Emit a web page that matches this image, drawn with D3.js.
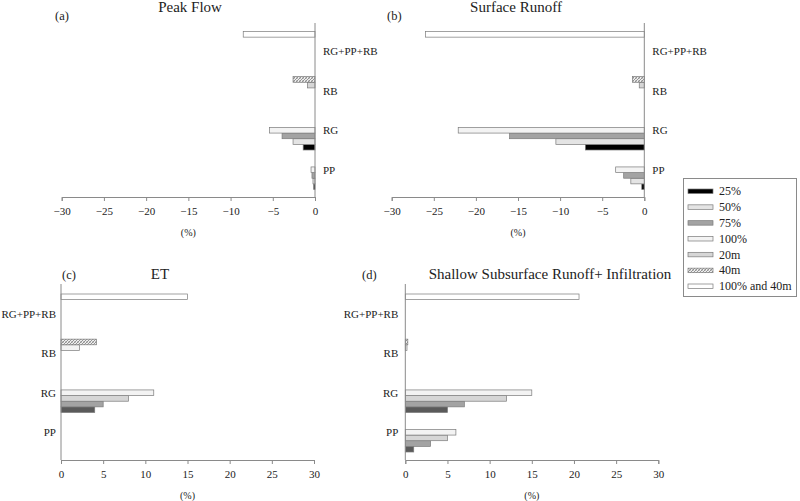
<!DOCTYPE html>
<html>
<head>
<meta charset="utf-8">
<script src="https://cdn.jsdelivr.net/npm/d3@7"></script>
<style>
  html, body { margin: 0; padding: 0; background: #fff; }
  svg { display: block; }
  text { font-family: "Liberation Serif", "Times New Roman", serif; fill: #222; }
</style>
</head>
<body>
<svg id="chart" width="800" height="501"></svg>
<script>
// ---------------- DATA ----------------
const categories = ["RG+PP+RB", "RB", "RG", "PP"];
const seriesNames = ["25%", "50%", "75%", "100%", "20m", "40m", "100% and 40m"];

// values per series, in category order [RG+PP+RB, RB, RG, PP]
const peakFlow = {
  "25%":          [0, 0, -1.4, -0.15],
  "50%":          [0, 0, -2.6, -0.24],
  "75%":          [0, 0, -3.9, -0.36],
  "100%":         [0, 0, -5.4, -0.47],
  "20m":          [0, -0.9, 0, 0],
  "40m":          [0, -2.6, 0, 0],
  "100% and 40m": [-8.5, 0, 0, 0]
};
const surfaceRunoff = {
  "25%":          [0, 0, -7.0, -0.3],
  "50%":          [0, 0, -10.5, -1.6],
  "75%":          [0, 0, -16.0, -2.45],
  "100%":         [0, 0, -22.1, -3.4],
  "20m":          [0, -0.6, 0, 0],
  "40m":          [0, -1.4, 0, 0],
  "100% and 40m": [-26.0, 0, 0, 0]
};
const et = {
  "25%":          [0, 0, 4.0, 0],
  "50%":          [0, 0, 5.0, 0],
  "75%":          [0, 0, 8.0, 0],
  "100%":         [0, 0, 11.0, 0],
  "20m":          [0, 2.2, 0, 0],
  "40m":          [0, 4.2, 0, 0],
  "100% and 40m": [15.0, 0, 0, 0]
};
const shallowInfil = {
  "25%":          [0, 0, 5.0, 1.0],
  "50%":          [0, 0, 7.0, 3.0],
  "75%":          [0, 0, 12.0, 5.0],
  "100%":         [0, 0, 15.0, 6.0],
  "20m":          [0, 0.2, 0, 0],
  "40m":          [0, 0.3, 0, 0],
  "100% and 40m": [20.6, 0, 0, 0]
};
const negTicks = [-30, -25, -20, -15, -10, -5, 0];
const posTicks = [0, 5, 10, 15, 20, 25, 30];

// ---------------- STYLE ----------------
const topColors = {
  "25%": "#000000", "50%": "#e4e4e4", "75%": "#a3a3a3", "100%": "#f3f3f3",
  "20m": "#d6d6d6", "40m": "url(#hatch)", "100% and 40m": "#ffffff"
};
const bottomColors = {
  "25%": "#5a5a5a", "50%": "#a3a3a3", "75%": "#d6d6d6", "100%": "#f3f3f3",
  "20m": "#f3f3f3", "40m": "url(#hatch)", "100% and 40m": "#ffffff"
};
const legendColors = {
  "25%": "#000000", "50%": "#e4e4e4", "75%": "#a3a3a3", "100%": "#f3f3f3",
  "20m": "#d6d6d6", "40m": "url(#hatch)", "100% and 40m": "#ffffff"
};

const svg = d3.select("#chart");
const defs = svg.append("defs");
const pat = defs.append("pattern").attr("id", "hatch")
  .attr("patternUnits", "userSpaceOnUse").attr("width", 3).attr("height", 3);
pat.append("rect").attr("width", 3).attr("height", 3).attr("fill", "#eee");
pat.append("path").attr("d", "M0,3 L3,0 M-1,1 L1,-1 M2,4 L4,2")
  .attr("stroke", "#777").attr("stroke-width", 0.8);
pat.append("path").attr("d", "M0,0 L3,3")
  .attr("stroke", "#999").attr("stroke-width", 0.5);

const panels = [
  { data: peakFlow, title: "Peak Flow", tag: "(a)", domain: [-30, 0], ticks: negTicks,
    xr: [61.7, 315], top: 23, axisY: 197, band: [31.5, 189.5], colors: topColors,
    titleX: 190, titleY: 12, tagX: 55, tagY: 20, labelSide: "right", labelOff: 8 },
  { data: surfaceRunoff, title: "Surface Runoff", tag: "(b)", domain: [-30, 0], ticks: negTicks,
    xr: [391.7, 644.3], top: 23, axisY: 197, band: [31.5, 189.5], colors: topColors,
    titleX: 516, titleY: 12, tagX: 387, tagY: 20, labelSide: "right", labelOff: 8 },
  { data: et, title: "ET", tag: "(c)", domain: [0, 30], ticks: posTicks,
    xr: [61, 314], top: 284, axisY: 460, band: [294, 452], colors: bottomColors,
    titleX: 160, titleY: 279, tagX: 62, tagY: 279, labelSide: "left", labelOff: 5 },
  { data: shallowInfil, title: "Shallow Subsurface Runoff+ Infiltration", tag: "(d)", domain: [0, 30], ticks: posTicks,
    xr: [405.3, 658.3], top: 284, axisY: 460, band: [294, 452], colors: bottomColors,
    titleX: 550, titleY: 279, tagX: 362, tagY: 279, labelSide: "left", labelOff: 7 }
];

panels.forEach(p => {
  const g = svg.append("g");
  const x = d3.scaleLinear().domain(p.domain).range(p.xr);
  const y = d3.scaleBand().domain(categories).range(p.band).paddingInner(0).paddingOuter(0);
  const yInner = d3.scaleBand().domain(seriesNames.slice().reverse())
    .range([0, y.bandwidth()]).padding(0);

  // bars
  seriesNames.forEach(s => {
    const vals = p.data[s];
    g.selectAll(null).data(categories.map((c, i) => ({ c, v: vals[i] })).filter(d => d.v !== 0))
      .enter().append("rect")
      .attr("x", d => Math.min(x(0), x(d.v)))
      .attr("width", d => Math.abs(x(d.v) - x(0)))
      .attr("y", d => y(d.c) + yInner(s))
      .attr("height", yInner.bandwidth())
      .attr("fill", p.colors[s])
      .attr("stroke", "#7a7a7a")
      .attr("stroke-width", 0.7);
  });

  // x axis
  const xAxis = d3.axisBottom(x).tickValues(p.ticks).tickSize(4).tickPadding(6)
    .tickFormat(d3.format("d"));
  const ax = g.append("g").attr("transform", `translate(0,${p.axisY})`).call(xAxis);
  ax.select(".domain").attr("stroke", "#8a8a8a");
  ax.selectAll(".tick line").attr("stroke", "#8a8a8a");
  ax.selectAll(".tick text").attr("font-family", "Liberation Serif, serif")
    .attr("font-size", 11).attr("fill", "#222");

  // category (vertical) axis line at zero
  g.append("line").attr("x1", x(0)).attr("x2", x(0))
    .attr("y1", p.top).attr("y2", p.axisY)
    .attr("stroke", "#8a8a8a").attr("stroke-width", 1);

  // category labels
  g.selectAll(null).data(categories).enter().append("text")
    .attr("x", p.labelSide === "right" ? x(0) + p.labelOff : x(0) - p.labelOff)
    .attr("y", d => y(d) + y.bandwidth() / 2)
    .attr("dy", "0.35em")
    .attr("text-anchor", p.labelSide === "right" ? "start" : "end")
    .attr("font-size", 11)
    .text(d => d);

  // units label
  g.append("text").attr("x", (p.xr[0] + p.xr[1]) / 2).attr("y", p.axisY + 35)
    .attr("dy", "0.35em").attr("text-anchor", "middle").attr("font-size", 10)
    .text("(%)");

  // title and tag
  g.append("text").attr("x", p.titleX).attr("y", p.titleY).attr("text-anchor", "middle")
    .attr("font-size", 15).text(p.title);
  g.append("text").attr("x", p.tagX).attr("y", p.tagY).attr("font-size", 12.5).text(p.tag);
});

// ---------------- LEGEND ----------------
const lg = svg.append("g");
lg.append("rect").attr("x", 683.5).attr("y", 178.5).attr("width", 113).attr("height", 118)
  .attr("fill", "#fff").attr("stroke", "#8a8a8a").attr("stroke-width", 1);
const ly = d3.scalePoint().domain(seriesNames).range([191, 286]);
seriesNames.forEach(s => {
  lg.append("rect").attr("x", 688).attr("y", ly(s) - 2).attr("width", 25).attr("height", 4.5)
    .attr("fill", legendColors[s]).attr("stroke", "#7a7a7a").attr("stroke-width", 0.7);
  lg.append("text").attr("x", 719).attr("y", ly(s)).attr("dy", "0.35em")
    .attr("font-size", 12).text(s);
});
</script>
</body>
</html>
